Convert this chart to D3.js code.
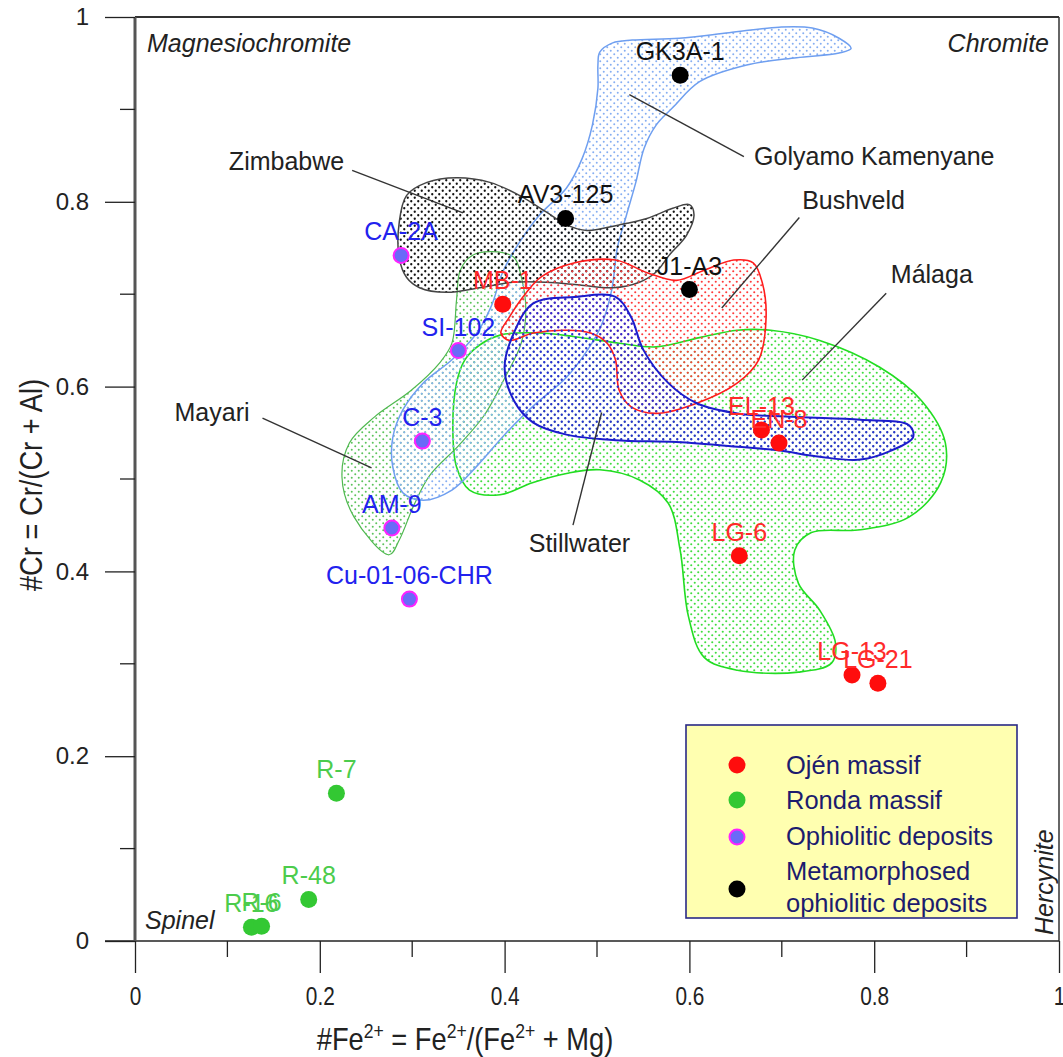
<!DOCTYPE html>
<html><head><meta charset="utf-8">
<script src="https://cdn.jsdelivr.net/npm/d3@7"></script>
<style>
body{margin:0;background:#fff;}
svg{display:block;}
text{font-family:"Liberation Sans",Arial,sans-serif;}
</style></head>
<body>
<svg id="c" width="1063" height="1057"></svg>
<script>
// ---------- data ----------
const xTicks = [0, 0.2, 0.4, 0.6, 0.8, 1];
const yTicks = [0, 0.2, 0.4, 0.6, 0.8, 1];
const xTickLabels = ["0", "0.2", "0.4", "0.6", "0.8", "1"];
const yTickLabels = ["0", "0.2", "0.4", "0.6", "0.8", "1"];
const minorTicks = [0.1, 0.3, 0.5, 0.7, 0.9];

const ojen = [
  {label:"MB-1", x:0.398, y:0.689},
  {label:"EL-13", x:0.678, y:0.553},
  {label:"EN-8", x:0.697, y:0.539},
  {label:"LG-6", x:0.654, y:0.417},
  {label:"LG-13", x:0.776, y:0.288},
  {label:"LG-21", x:0.804, y:0.279}
];
const ronda = [
  {label:"R-7", x:0.218, y:0.160},
  {label:"R-48", x:0.188, y:0.045},
  {label:"R-16", x:0.126, y:0.015},
  {label:"R-6", x:0.137, y:0.016}
];
const ophiolitic = [
  {label:"CA-2A", x:0.288, y:0.742},
  {label:"SI-102", x:0.350, y:0.639},
  {label:"C-3", x:0.311, y:0.541},
  {label:"AM-9", x:0.278, y:0.447},
  {label:"Cu-01-06-CHR", x:0.297, y:0.370}
];
const metamorphosed = [
  {label:"GK3A-1", x:0.590, y:0.937},
  {label:"AV3-125", x:0.466, y:0.782},
  {label:"J1-A3", x:0.600, y:0.705}
];

// field outlines [x, y] in data units
const malagaField = [[0.348,0.604],[0.357,0.629],[0.373,0.645],[0.396,0.656],[0.438,0.658],[0.476,0.654],[0.524,0.647],[0.564,0.643],[0.611,0.653],[0.652,0.661],[0.688,0.661],[0.741,0.650],[0.806,0.621],[0.851,0.585],[0.877,0.539],[0.872,0.496],[0.838,0.459],[0.785,0.445],[0.732,0.442],[0.714,0.423],[0.718,0.387],[0.741,0.358],[0.758,0.323],[0.754,0.301],[0.718,0.291],[0.652,0.293],[0.616,0.307],[0.599,0.351],[0.590,0.423],[0.577,0.474],[0.546,0.499],[0.503,0.510],[0.467,0.506],[0.430,0.496],[0.395,0.483],[0.362,0.488],[0.348,0.513],[0.344,0.553]];
const mayariField = [[0.275,0.418],[0.237,0.459],[0.224,0.502],[0.232,0.539],[0.259,0.567],[0.299,0.596],[0.330,0.626],[0.343,0.647],[0.348,0.694],[0.352,0.726],[0.365,0.742],[0.387,0.746],[0.410,0.740],[0.418,0.719],[0.423,0.683],[0.418,0.647],[0.400,0.609],[0.378,0.569],[0.351,0.537],[0.319,0.504],[0.302,0.472],[0.286,0.434]];
const golyamoField = [[0.503,0.962],[0.517,0.972],[0.538,0.975],[0.589,0.977],[0.643,0.983],[0.697,0.989],[0.733,0.988],[0.762,0.977],[0.775,0.966],[0.762,0.961],[0.716,0.956],[0.662,0.948],[0.611,0.930],[0.582,0.902],[0.564,0.883],[0.551,0.858],[0.542,0.821],[0.532,0.786],[0.522,0.750],[0.516,0.705],[0.505,0.667],[0.490,0.640],[0.466,0.609],[0.432,0.580],[0.400,0.548],[0.371,0.515],[0.343,0.488],[0.312,0.477],[0.290,0.485],[0.279,0.513],[0.279,0.545],[0.290,0.575],[0.312,0.604],[0.343,0.629],[0.370,0.658],[0.386,0.688],[0.398,0.724],[0.416,0.756],[0.438,0.786],[0.467,0.815],[0.484,0.847],[0.495,0.883],[0.501,0.923],[0.501,0.948]];
const zimbabweField = [[0.286,0.778],[0.294,0.807],[0.316,0.821],[0.348,0.826],[0.384,0.821],[0.416,0.807],[0.445,0.789],[0.467,0.775],[0.489,0.769],[0.524,0.775],[0.554,0.782],[0.582,0.793],[0.600,0.797],[0.605,0.786],[0.597,0.764],[0.578,0.742],[0.564,0.724],[0.546,0.713],[0.517,0.707],[0.481,0.710],[0.445,0.713],[0.409,0.713],[0.373,0.707],[0.337,0.702],[0.308,0.707],[0.294,0.718],[0.286,0.739]];
const bushveldField = [[0.423,0.701],[0.440,0.719],[0.476,0.734],[0.520,0.737],[0.555,0.723],[0.586,0.715],[0.616,0.726],[0.648,0.737],[0.669,0.734],[0.679,0.712],[0.683,0.675],[0.675,0.629],[0.652,0.604],[0.608,0.582],[0.564,0.571],[0.537,0.578],[0.524,0.596],[0.520,0.629],[0.511,0.647],[0.493,0.658],[0.467,0.661],[0.431,0.658],[0.405,0.650],[0.396,0.658],[0.405,0.675]];
const stillwaterField = [[0.431,0.690],[0.476,0.697],[0.520,0.697],[0.537,0.675],[0.550,0.640],[0.577,0.604],[0.608,0.582],[0.652,0.571],[0.718,0.567],[0.785,0.564],[0.838,0.558],[0.842,0.545],[0.819,0.531],[0.785,0.521],[0.741,0.524],[0.696,0.531],[0.652,0.535],[0.586,0.540],[0.520,0.542],[0.467,0.548],[0.431,0.561],[0.410,0.585],[0.400,0.621],[0.410,0.658]];

// field name annotations: text position and leader line (data units)
const fieldLabels = [
  {name:"Zimbabwe", tx:0.164, ty:0.834, anchor:"middle", l:[[0.235,0.834],[0.355,0.788]]},
  {name:"Golyamo Kamenyane", tx:0.670, ty:0.840, anchor:"start", l:[[0.535,0.916],[0.659,0.849]]},
  {name:"Bushveld", tx:0.722, ty:0.792, anchor:"start", l:[[0.719,0.783],[0.635,0.685]]},
  {name:"Málaga", tx:0.818, ty:0.712, anchor:"start", l:[[0.813,0.701],[0.722,0.607]]},
  {name:"Mayari", tx:0.124, ty:0.563, anchor:"end", l:[[0.138,0.566],[0.256,0.512]]},
  {name:"Stillwater", tx:0.481, ty:0.421, anchor:"middle", l:[[0.474,0.450],[0.505,0.572]]}
];

const legendItems = ["Ojén massif", "Ronda massif", "Ophiolitic deposits", "Metamorphosed|ophiolitic deposits"];

// ---------- drawing ----------
const svg = d3.select("#c");
const x = d3.scaleLinear().domain([0,1]).range([135,1059]);
const y = d3.scaleLinear().domain([0,1]).range([941,17]);

const defs = svg.append("defs");
function pat(id, color, r, s){
  const p = defs.append("pattern").attr("id", id).attr("patternUnits","userSpaceOnUse")
    .attr("width", s).attr("height", s);
  p.append("circle").attr("cx", s/4).attr("cy", s/4).attr("r", r).attr("fill", color);
  p.append("circle").attr("cx", 3*s/4).attr("cy", 3*s/4).attr("r", r).attr("fill", color);
}
pat("pMal", "#3fdc3f", 1.05, 7);
pat("pMay", "#5cc35c", 1.0, 7);
pat("pGK", "#86aef2", 1.0, 7);
pat("pZim", "#111", 1.15, 7);
pat("pBus", "#ff3a3a", 1.05, 7);
pat("pSti", "#2b2bd6", 1.15, 7);

const line = d3.line().x(d=>x(d[0])).y(d=>y(d[1])).curve(d3.curveCatmullRomClosed.alpha(0.5));

const fields = [
  {pts:malagaField, fill:"url(#pMal)", stroke:"#22dd22", w:1.6},
  {pts:mayariField, fill:"url(#pMay)", stroke:"#4fb84f", w:1.2},
  {pts:golyamoField, fill:"url(#pGK)", stroke:"#6f9ff0", w:1.5},
  {pts:zimbabweField, fill:"url(#pZim)", stroke:"#444", w:1.5},
  {pts:bushveldField, fill:"url(#pBus)", stroke:"#ff1c1c", w:1.6},
  {pts:stillwaterField, fill:"url(#pSti)", stroke:"#1c1ccc", w:2}
];
svg.append("g").selectAll("path").data(fields).join("path")
  .attr("d", d=>line(d.pts)).attr("fill", d=>d.fill)
  .attr("stroke", d=>d.stroke).attr("stroke-width", d=>d.w);

// frame
const frame = svg.append("g");
frame.append("line").attr("x1", x(0)).attr("x2", x(1)).attr("y1", y(1)).attr("y2", y(1)).attr("stroke","#333").attr("stroke-width",2);
frame.append("line").attr("x1", x(1)).attr("x2", x(1)).attr("y1", y(1)).attr("y2", y(0)).attr("stroke","#333").attr("stroke-width",1.5);

// axes
const xAxis = d3.axisBottom(x).tickValues(xTicks).tickSize(32).tickPadding(14)
  .tickFormat((d,i)=>xTickLabels[i]);
const gx = svg.append("g").attr("transform", `translate(0,${y(0)})`).call(xAxis);
gx.select(".domain").attr("stroke","#222").attr("stroke-width",1.5).attr("d", `M${x(0)-30},0H${x(1)}`);
gx.selectAll(".tick line").attr("stroke","#222").attr("stroke-width",1.3);
gx.selectAll(".tick text").attr("font-size",26).attr("fill","#222").attr("transform","scale(0.8,1)");
gx.selectAll(".minor").data(minorTicks).join("line").attr("class","minor")
  .attr("x1", d=>x(d)).attr("x2", d=>x(d)).attr("y1",0).attr("y2",16).attr("stroke","#222").attr("stroke-width",1.3);

const yAxis = d3.axisLeft(y).tickValues(yTicks).tickSize(30).tickPadding(16)
  .tickFormat((d,i)=>yTickLabels[i]);
const gy = svg.append("g").attr("transform", `translate(${x(0)},0)`).call(yAxis);
gy.select(".domain").attr("stroke","#555").attr("stroke-width",3).attr("d", `M0,${y(1)}V${y(0)}`);
gy.selectAll(".tick line").attr("stroke","#222").attr("stroke-width",1.3);
gy.selectAll(".tick text").attr("font-size",24).attr("fill","#222");
gy.selectAll(".minor").data(minorTicks).join("line").attr("class","minor")
  .attr("x1",-15).attr("x2",0).attr("y1", d=>y(d)).attr("y2", d=>y(d)).attr("stroke","#222").attr("stroke-width",1.3);

// axis titles
const xt = svg.append("text").attr("transform","translate(465,1050) scale(0.88,1)")
  .attr("text-anchor","middle").attr("font-size",31).attr("fill","#222");
let prevSup = false;
[["#Fe",0],["2+",1],[" = Fe",0],["2+",1],["/(Fe",0],["2+",1],[" + Mg)",0]].forEach(([t,s])=>{
  const dy = s ? -12 : (prevSup ? 12 : 0);
  xt.append("tspan").text(t).attr("font-size", s?20:31).attr("dy", dy);
  prevSup = !!s;
});

svg.append("text").attr("transform", `translate(42,485) rotate(-90) scale(0.88,1)`)
  .attr("text-anchor","middle").attr("font-size",31).attr("fill","#222").text("#Cr = Cr/(Cr + Al)");

// corner labels
const corner = svg.append("g").attr("font-style","italic").attr("font-size",25).attr("fill","#222");
corner.append("text").attr("x", x(0)+12).attr("y", y(1)+35).text("Magnesiochromite");
corner.append("text").attr("x", x(1)-10).attr("y", y(1)+35).attr("text-anchor","end").text("Chromite");
corner.append("text").attr("x", x(0)+10).attr("y", y(0)-12).text("Spinel");
corner.append("text").attr("transform", `translate(${x(1)-6},${y(0)-6}) rotate(-90)`).text("Hercynite");

// field annotations
const fa = svg.append("g");
fa.selectAll("line").data(fieldLabels).join("line")
  .attr("x1", d=>x(d.l[0][0])).attr("y1", d=>y(d.l[0][1]))
  .attr("x2", d=>x(d.l[1][0])).attr("y2", d=>y(d.l[1][1]))
  .attr("stroke","#333").attr("stroke-width",1.4);
fa.selectAll("text").data(fieldLabels).join("text")
  .attr("x", d=>x(d.tx)).attr("y", d=>y(d.ty)).attr("text-anchor", d=>d.anchor)
  .attr("font-size",25).attr("fill","#222").text(d=>d.name);

// points
const groups = [
  {data:ojen, fill:"#ff0d0d", stroke:"none", sw:0, lc:"#ff2a2a", r:8.5},
  {data:ronda, fill:"#33c833", stroke:"none", sw:0, lc:"#4ccc4c", r:8.5},
  {data:ophiolitic, fill:"#6a6af8", stroke:"#ff22ff", sw:2, lc:"#2222ee", r:7.5},
  {data:metamorphosed, fill:"#000", stroke:"none", sw:0, lc:"#111", r:8.5}
];
groups.forEach(g=>{
  const G = svg.append("g");
  G.selectAll("circle").data(g.data).join("circle")
    .attr("cx", d=>x(d.x)).attr("cy", d=>y(d.y)).attr("r", g.r)
    .attr("fill", g.fill).attr("stroke", g.stroke).attr("stroke-width", g.sw);
  G.selectAll("text").data(g.data).join("text")
    .attr("x", d=>x(d.x)).attr("y", d=>y(d.y)-15).attr("text-anchor","middle")
    .attr("font-size",25).attr("fill", g.lc).text(d=>d.label);
});

// legend
const lg = svg.append("g");
lg.append("rect").attr("x",686).attr("y",725).attr("width",331).attr("height",193)
  .attr("fill","#ffffb0").attr("stroke","#2a2a86").attr("stroke-width",1.6);
const legDotY = [765, 800, 837, 889];
const legTxtY = [[774],[809],[845],[880,912]];
legendItems.forEach((t,i)=>{
  const g = groups[i];
  lg.append("circle").attr("cx",737).attr("cy",legDotY[i]).attr("r", g.r)
    .attr("fill", g.fill).attr("stroke", g.stroke).attr("stroke-width", g.sw);
  t.split("|").forEach((part,j)=>{
    lg.append("text").attr("x",786).attr("y",legTxtY[i][j]).attr("font-size",25.5)
      .attr("fill","#1c1c6e").text(part);
  });
});
</script>
</body></html>
